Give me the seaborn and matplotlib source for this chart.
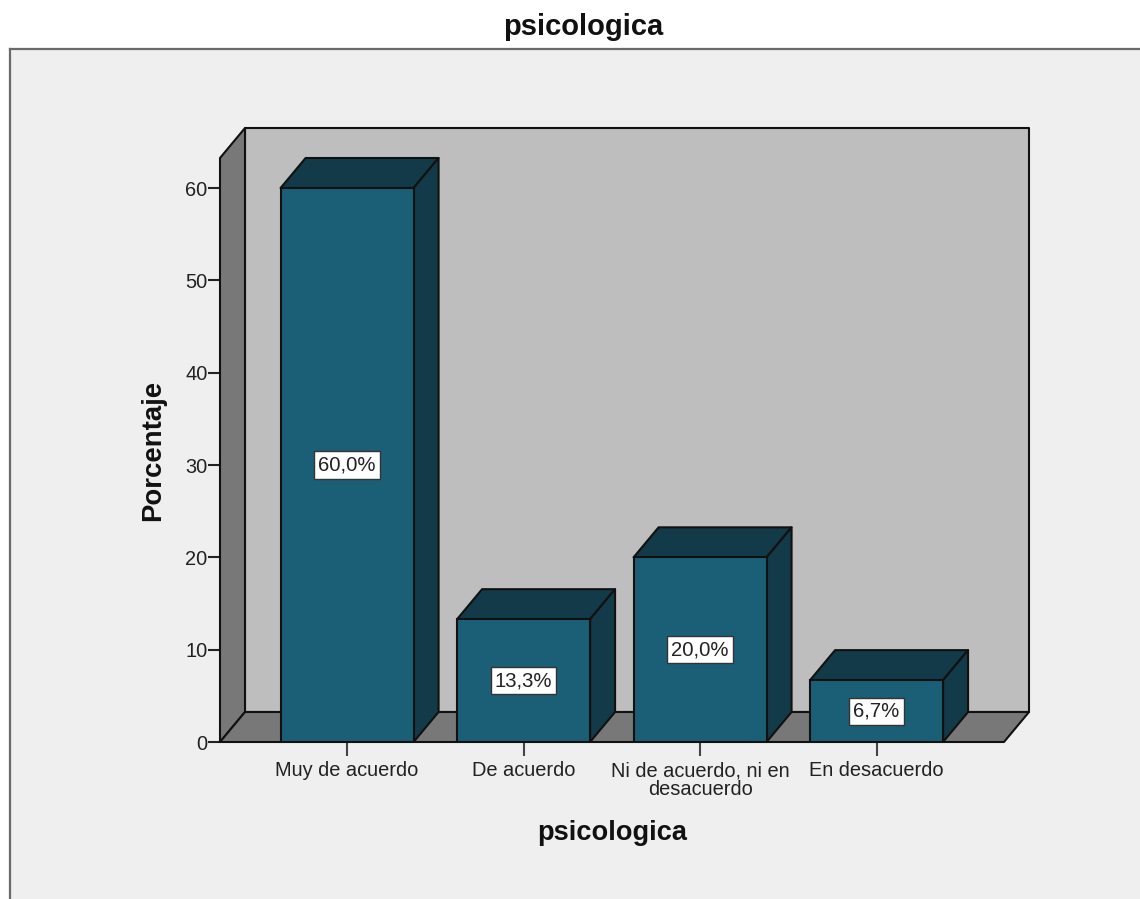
import matplotlib
matplotlib.use("Agg")
import matplotlib.pyplot as plt
import matplotlib.patches as mpatches
import pandas as pd
import seaborn as sns

categorias = ["Muy de acuerdo", "De acuerdo", "Ni de acuerdo, ni en\ndesacuerdo", "En desacuerdo"]
porcentajes = [60.0, 13.3, 20.0, 6.7]
etiquetas = ["60,0%", "13,3%", "20,0%", "6,7%"]
ticks_y = [0, 10, 20, 30, 40, 50, 60]

AZUL = "#1b5f77"
AZUL_OSC = "#133a48"
GRIS_PARED = "#bebebe"
GRIS_LADO = "#787878"
FONDO = "#efefef"
NEGRO = "#111111"

W, H = 1140, 899
# eje frontal en pixeles
X0, X1, Y0, Y1 = 220, 1004, 742, 158
DX, DY = 25, 30  # profundidad del efecto 3D

sns.set_style("white")
plt.rcParams["font.family"] = ["Liberation Sans", "DejaVu Sans"]

fig = plt.figure(figsize=(W / 100, H / 100), dpi=100, facecolor="white")

# panel gris de fondo con borde arriba e izquierda
panel = fig.add_axes([10 / W, 0, 1 - 10 / W, 1 - 49 / H], facecolor=FONDO, zorder=0)
panel.set_xticks([])
panel.set_yticks([])
for lado in ["right", "bottom"]:
    panel.spines[lado].set_visible(False)
for lado in ["left", "top"]:
    panel.spines[lado].set_color("#6a6a6a")
    panel.spines[lado].set_linewidth(1.6)

ax = fig.add_axes([X0 / W, 1 - Y0 / H, (X1 - X0) / W, (Y0 - Y1) / H], zorder=1)
ax.patch.set_alpha(0)

datos = pd.DataFrame({"categoria": categorias, "porcentaje": porcentajes})
sns.barplot(data=datos, x="categoria", y="porcentaje", color=AZUL, saturation=1,
            width=0.7535, edgecolor=NEGRO, linewidth=1.5, zorder=5, ax=ax)

ax.set_xlim(-0.72, 3.722)
ax.set_ylim(0, 63.25)

# desplazamiento de profundidad pasado a unidades de datos
pp_x = (X1 - X0) / (ax.get_xlim()[1] - ax.get_xlim()[0])
pp_y = (Y0 - Y1) / (ax.get_ylim()[1] - ax.get_ylim()[0])
dx, dy = DX / pp_x, DY / pp_y
xa, xb = ax.get_xlim()
ya, yb = ax.get_ylim()


def cara(puntos, color, z):
    ax.add_patch(mpatches.Polygon(puntos, closed=True, facecolor=color, edgecolor=NEGRO,
                                  linewidth=1.5, joinstyle="round", zorder=z, clip_on=False))


# paredes: fondo, lateral y suelo
cara([(xa + dx, ya + dy), (xb + dx, ya + dy), (xb + dx, yb + dy), (xa + dx, yb + dy)], GRIS_PARED, 1)
cara([(xa, ya), (xa + dx, ya + dy), (xa + dx, yb + dy), (xa, yb)], GRIS_LADO, 2)
cara([(xa, ya), (xb, ya), (xb + dx, ya + dy), (xa + dx, ya + dy)], GRIS_LADO, 2)

# caras superior y lateral de cada barra, sacadas de la barra de seaborn
for barra, etiqueta in zip(ax.patches[:len(porcentajes)], etiquetas):
    x1 = barra.get_x()
    x2 = x1 + barra.get_width()
    alto = barra.get_height()
    cara([(x1, alto), (x2, alto), (x2 + dx, alto + dy), (x1 + dx, alto + dy)], AZUL_OSC, 4)
    cara([(x2, 0), (x2 + dx, dy), (x2 + dx, alto + dy), (x2, alto)], AZUL_OSC, 4)
    ax.text((x1 + x2) / 2, alto / 2, etiqueta, ha="center", va="center", fontsize=14.6,
            color="#222222", zorder=8,
            bbox=dict(boxstyle="square,pad=0.2", facecolor="white", edgecolor="#333333", linewidth=1))

for lado in ["top", "right", "left", "bottom"]:
    ax.spines[lado].set_visible(False)

ax.set_yticks(ticks_y)
ax.set_xticks(range(len(categorias)))
ax.set_xticklabels(categorias, linespacing=0.95)
ax.tick_params(axis="y", left=True, length=9, width=1.5, color="#222222", pad=0,
               labelsize=14.4, labelcolor="#222222")
ax.tick_params(axis="x", bottom=True, length=10, width=1.5, color="#444444", pad=4,
               labelsize=14.4, labelcolor="#222222")

ax.set_xlabel("")
ax.set_ylabel("")
fig.text(612.5 / W, 1 - 833 / H, "psicologica", ha="center", va="center", fontsize=19.6,
         fontweight="bold", color="#111111")
fig.text(153 / W, 1 - 450.5 / H, "Porcentaje", ha="center", va="center", rotation=90,
         fontsize=19.8, fontweight="bold", color="#111111")
fig.text(583 / W, 1 - 27 / H, "psicologica", ha="center", va="center", fontsize=21,
         fontweight="bold", color="#111111")

plt.savefig("out.png", dpi=100, facecolor="white")
